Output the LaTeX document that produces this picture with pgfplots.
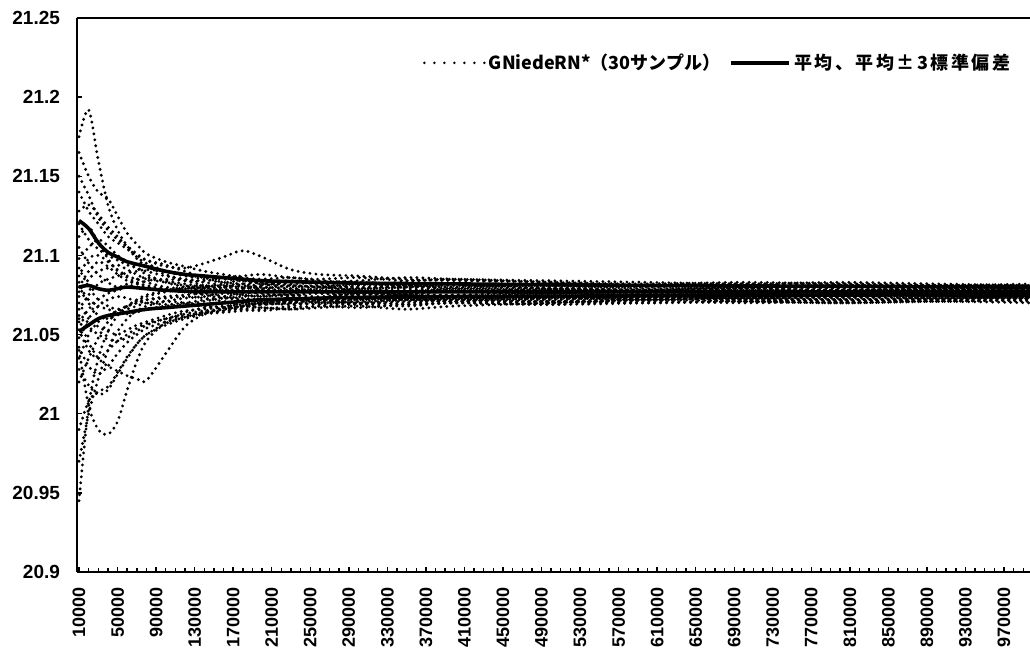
\documentclass[border=0pt]{standalone}
\usepackage{fontspec}
\setmainfont{Liberation Sans}
\newfontfamily\jpA{Noto Sans CJK JP}
\newfontfamily\jpB{Noto Sans CJK JP}[LetterSpace=14]
\usepackage{pgfplots}
\pgfplotsset{compat=1.18}
\begin{document}
\begin{tikzpicture}
\begin{axis}[
  scale only axis, width=476.5pt, height=277pt,
  xmin=0.79, xmax=99.7, ymin=20.9, ymax=21.25,
  axis x line*=bottom, axis y line*=left,
  axis line style={line width=1pt},
  clip mode=individual,
  tick align=inside, tick style={black, line width=0.7pt},
  major tick length=2.6pt, minor tick length=2pt,
  xtick={1,5,...,97}, minor xtick={1,...,100},
  xticklabels={10000,50000,90000,130000,170000,210000,250000,290000,330000,370000,410000,450000,490000,530000,570000,610000,650000,690000,730000,770000,810000,850000,890000,930000,970000},
  xticklabel style={rotate=90, anchor=east, xshift=-4pt, font=\bfseries\fontsize{9}{10}\selectfont},
  ytick={20.9,20.95,21,21.05,21.1,21.15,21.2,21.25},
  yticklabels={20.9,20.95,21,21.05,21.1,21.15,21.2,21.25},
  yticklabel style={xshift=-5pt, font=\bfseries\fontsize{9.5}{10}\selectfont},
  samp/.style={black, line width=1.6pt, dash pattern=on 0pt off 3pt, line cap=round, smooth, tension=0.5, forget plot},
  sol/.style={black, line width=1.8pt, smooth, tension=0.5, forget plot},
  legend columns=2,
  legend style={draw=none, fill=none, inner sep=0pt, at={(0.983,0.919)}, anchor=east,
    font=\bfseries\fontsize{9}{10}\selectfont,
    nodes={inner xsep=1.5pt},
    /tikz/every even column/.append style={column sep=3pt}},
]
\addlegendimage{legend image code/.code={\draw[black, line width=1.4pt, dash pattern=on 0pt off 5pt, line cap=round] (0pt,0pt) -- (30pt,0pt);}}
\addlegendentry{\jpA GNiedeRN*（30サンプル）}
\addlegendimage{legend image code/.code={\draw[black, line width=2pt] (0pt,0pt) -- (29pt,0pt);}}
\addlegendentry{\jpB 平均、平均±3標準偏差}

\addplot[samp] coordinates {(1,21.175)(2,21.192)(3,21.160)(4,21.132)(5,21.116)(6,21.106)(7,21.099)(8,21.095)(10,21.090)(12,21.087)(14,21.085)(16,21.083)(18,21.084)(20,21.082)(23,21.080)(26,21.081)(30,21.079)(35,21.080)(40,21.082)(50,21.079)(60,21.078)(70,21.080)(80,21.079)(90,21.078)(100,21.079)};
\addplot[samp] coordinates {(1,21.165)(2,21.150)(3,21.140)(4,21.136)(5,21.125)(6,21.114)(7,21.107)(8,21.101)(10,21.096)(12,21.093)(14,21.090)(16,21.088)(18,21.086)(20,21.085)(23,21.086)(26,21.084)(30,21.083)(35,21.082)(40,21.080)(50,21.081)(60,21.079)(70,21.080)(80,21.081)(90,21.080)(100,21.079)};
\addplot[samp] coordinates {(1,21.150)(2,21.138)(3,21.124)(4,21.116)(5,21.110)(6,21.106)(7,21.101)(8,21.097)(10,21.093)(12,21.092)(14,21.095)(16,21.099)(18,21.103)(20,21.099)(23,21.091)(26,21.088)(30,21.087)(35,21.085)(40,21.084)(50,21.083)(60,21.081)(70,21.082)(80,21.080)(90,21.081)(100,21.080)};
\addplot[samp] coordinates {(1,21.140)(2,21.128)(3,21.120)(4,21.112)(5,21.108)(6,21.104)(7,21.100)(8,21.097)(10,21.094)(12,21.090)(14,21.086)(16,21.083)(18,21.082)(20,21.080)(23,21.079)(26,21.080)(30,21.078)(35,21.079)(40,21.077)(50,21.078)(60,21.076)(70,21.077)(80,21.078)(90,21.077)(100,21.076)};
\addplot[samp] coordinates {(1,21.128)(2,21.132)(3,21.126)(4,21.118)(5,21.112)(6,21.105)(7,21.098)(8,21.093)(10,21.088)(12,21.084)(14,21.081)(16,21.079)(18,21.077)(20,21.076)(23,21.075)(26,21.076)(30,21.074)(35,21.075)(40,21.073)(50,21.074)(60,21.075)(70,21.074)(80,21.073)(90,21.074)(100,21.075)};
\addplot[samp] coordinates {(1,21.120)(2,21.110)(3,21.104)(4,21.100)(5,21.097)(6,21.094)(7,21.092)(8,21.090)(10,21.087)(12,21.085)(14,21.084)(16,21.086)(18,21.087)(20,21.088)(23,21.086)(26,21.085)(30,21.086)(35,21.084)(40,21.085)(50,21.083)(60,21.082)(70,21.083)(80,21.082)(90,21.081)(100,21.082)};
\addplot[samp] coordinates {(1,21.112)(2,21.118)(3,21.108)(4,21.098)(5,21.090)(6,21.086)(7,21.083)(8,21.081)(10,21.079)(12,21.077)(14,21.075)(16,21.073)(18,21.072)(20,21.071)(23,21.072)(26,21.070)(30,21.071)(35,21.072)(40,21.073)(50,21.072)(60,21.074)(70,21.073)(80,21.074)(90,21.073)(100,21.074)};
\addplot[samp] coordinates {(1,21.105)(2,21.095)(3,21.088)(4,21.083)(5,21.080)(6,21.082)(7,21.085)(8,21.086)(10,21.084)(12,21.082)(14,21.080)(16,21.078)(18,21.079)(20,21.081)(23,21.083)(26,21.082)(30,21.080)(35,21.081)(40,21.079)(50,21.080)(60,21.078)(70,21.079)(80,21.080)(90,21.079)(100,21.078)};
\addplot[samp] coordinates {(1,21.098)(2,21.105)(3,21.110)(4,21.106)(5,21.100)(6,21.096)(7,21.092)(8,21.088)(10,21.083)(12,21.080)(14,21.078)(16,21.077)(18,21.075)(20,21.074)(23,21.076)(26,21.078)(30,21.077)(35,21.076)(40,21.075)(50,21.077)(60,21.076)(70,21.077)(80,21.076)(90,21.077)(100,21.077)};
\addplot[samp] coordinates {(1,21.092)(2,21.080)(3,21.072)(4,21.068)(5,21.066)(6,21.068)(7,21.070)(8,21.072)(10,21.074)(12,21.075)(14,21.076)(16,21.074)(18,21.073)(20,21.072)(23,21.071)(26,21.072)(30,21.070)(35,21.071)(40,21.072)(50,21.071)(60,21.073)(70,21.072)(80,21.071)(90,21.072)(100,21.073)};
\addplot[samp] coordinates {(1,21.087)(2,21.098)(3,21.100)(4,21.096)(5,21.091)(6,21.087)(7,21.085)(8,21.083)(10,21.080)(12,21.079)(14,21.080)(16,21.082)(18,21.081)(20,21.079)(23,21.078)(26,21.079)(30,21.081)(35,21.083)(40,21.082)(50,21.081)(60,21.080)(70,21.081)(80,21.082)(90,21.081)(100,21.080)};
\addplot[samp] coordinates {(1,21.083)(2,21.070)(3,21.062)(4,21.060)(5,21.063)(6,21.066)(7,21.068)(8,21.070)(10,21.071)(12,21.070)(14,21.068)(16,21.067)(18,21.068)(20,21.070)(23,21.072)(26,21.071)(30,21.072)(35,21.073)(40,21.072)(50,21.074)(60,21.073)(70,21.074)(80,21.075)(90,21.074)(100,21.075)};
\addplot[samp] coordinates {(1,21.080)(2,21.090)(3,21.096)(4,21.093)(5,21.088)(6,21.084)(7,21.082)(8,21.080)(10,21.078)(12,21.077)(14,21.079)(16,21.080)(18,21.082)(20,21.083)(23,21.084)(26,21.083)(30,21.082)(35,21.080)(40,21.081)(50,21.079)(60,21.078)(70,21.079)(80,21.078)(90,21.079)(100,21.078)};
\addplot[samp] coordinates {(1,21.077)(2,21.072)(3,21.068)(4,21.066)(5,21.064)(6,21.063)(7,21.064)(8,21.066)(10,21.068)(12,21.069)(14,21.071)(16,21.073)(18,21.074)(20,21.075)(23,21.074)(26,21.073)(30,21.074)(35,21.072)(40,21.073)(50,21.074)(60,21.075)(70,21.074)(80,21.075)(90,21.076)(100,21.075)};
\addplot[samp] coordinates {(1,21.074)(2,21.085)(3,21.090)(4,21.092)(5,21.094)(6,21.091)(7,21.088)(8,21.085)(10,21.083)(12,21.081)(14,21.079)(16,21.078)(18,21.077)(20,21.079)(23,21.081)(26,21.080)(30,21.078)(35,21.077)(40,21.079)(50,21.078)(60,21.077)(70,21.078)(80,21.077)(90,21.078)(100,21.077)};
\addplot[samp] coordinates {(1,21.070)(2,21.060)(3,21.055)(4,21.052)(5,21.050)(6,21.053)(7,21.056)(8,21.058)(10,21.062)(12,21.065)(14,21.066)(16,21.067)(18,21.066)(20,21.065)(23,21.067)(26,21.068)(30,21.067)(35,21.069)(40,21.070)(50,21.071)(60,21.070)(70,21.071)(80,21.072)(90,21.071)(100,21.072)};
\addplot[samp] coordinates {(1,21.066)(2,21.075)(3,21.082)(4,21.085)(5,21.087)(6,21.089)(7,21.090)(8,21.091)(10,21.090)(12,21.088)(14,21.086)(16,21.085)(18,21.084)(20,21.083)(23,21.082)(26,21.083)(30,21.084)(35,21.086)(40,21.085)(50,21.084)(60,21.083)(70,21.082)(80,21.083)(90,21.082)(100,21.081)};
\addplot[samp] coordinates {(1,21.062)(2,21.055)(3,21.050)(4,21.047)(5,21.046)(6,21.048)(7,21.052)(8,21.056)(10,21.060)(12,21.063)(14,21.065)(16,21.066)(18,21.068)(20,21.067)(23,21.066)(26,21.067)(30,21.068)(35,21.066)(40,21.068)(50,21.070)(60,21.072)(70,21.071)(80,21.070)(90,21.071)(100,21.070)};
\addplot[samp] coordinates {(1,21.058)(2,21.066)(3,21.072)(4,21.076)(5,21.078)(6,21.080)(7,21.082)(8,21.084)(10,21.085)(12,21.084)(14,21.083)(16,21.081)(18,21.080)(20,21.078)(23,21.077)(26,21.076)(30,21.075)(35,21.076)(40,21.077)(50,21.076)(60,21.077)(70,21.076)(80,21.077)(90,21.076)(100,21.077)};
\addplot[samp] coordinates {(1,21.053)(2,21.040)(3,21.035)(4,21.040)(5,21.046)(6,21.050)(7,21.054)(8,21.057)(10,21.060)(12,21.062)(14,21.064)(16,21.065)(18,21.067)(20,21.069)(23,21.070)(26,21.069)(30,21.070)(35,21.069)(40,21.070)(50,21.069)(60,21.071)(70,21.070)(80,21.071)(90,21.072)(100,21.071)};
\addplot[samp] coordinates {(1,21.048)(2,21.060)(3,21.068)(4,21.072)(5,21.074)(6,21.073)(7,21.071)(8,21.070)(10,21.069)(12,21.070)(14,21.072)(16,21.074)(18,21.076)(20,21.077)(23,21.078)(26,21.077)(30,21.076)(35,21.078)(40,21.077)(50,21.076)(60,21.078)(70,21.077)(80,21.076)(90,21.077)(100,21.076)};
\addplot[samp] coordinates {(1,21.042)(2,21.030)(3,21.025)(4,21.030)(5,21.038)(6,21.045)(7,21.050)(8,21.054)(10,21.058)(12,21.061)(14,21.063)(16,21.064)(18,21.065)(20,21.066)(23,21.068)(26,21.070)(30,21.069)(35,21.070)(40,21.071)(50,21.070)(60,21.072)(70,21.073)(80,21.072)(90,21.073)(100,21.074)};
\addplot[samp] coordinates {(1,21.035)(2,21.050)(3,21.058)(4,21.062)(5,21.065)(6,21.068)(7,21.070)(8,21.072)(10,21.073)(12,21.074)(14,21.073)(16,21.071)(18,21.070)(20,21.069)(23,21.070)(26,21.072)(30,21.073)(35,21.074)(40,21.075)(50,21.074)(60,21.075)(70,21.076)(80,21.075)(90,21.076)(100,21.075)};
\addplot[samp] coordinates {(1,21.028)(2,21.018)(3,21.012)(4,21.015)(5,21.025)(6,21.035)(7,21.044)(8,21.050)(10,21.056)(12,21.060)(14,21.063)(16,21.065)(18,21.066)(20,21.067)(23,21.066)(26,21.068)(30,21.069)(35,21.068)(40,21.070)(50,21.069)(60,21.070)(70,21.071)(80,21.070)(90,21.071)(100,21.072)};
\addplot[samp] coordinates {(1,21.020)(2,21.035)(3,21.048)(4,21.058)(5,21.064)(6,21.068)(7,21.071)(8,21.074)(10,21.077)(12,21.079)(14,21.080)(16,21.081)(18,21.080)(20,21.082)(23,21.081)(26,21.080)(30,21.082)(35,21.081)(40,21.080)(50,21.082)(60,21.081)(70,21.080)(80,21.081)(90,21.080)(100,21.081)};
\addplot[samp] coordinates {(1,21.060)(2,21.045)(3,21.035)(4,21.030)(5,21.027)(6,21.024)(7,21.022)(8,21.021)(10,21.038)(12,21.055)(14,21.063)(16,21.067)(18,21.070)(20,21.071)(23,21.073)(26,21.072)(30,21.073)(35,21.075)(40,21.074)(50,21.075)(60,21.074)(70,21.075)(80,21.074)(90,21.075)(100,21.074)};
\addplot[samp] coordinates {(1,21.040)(2,21.005)(3,20.990)(4,20.987)(5,20.995)(6,21.015)(7,21.033)(8,21.046)(10,21.058)(12,21.064)(14,21.067)(16,21.068)(18,21.069)(20,21.070)(23,21.069)(26,21.071)(30,21.070)(35,21.072)(40,21.071)(50,21.073)(60,21.072)(70,21.073)(80,21.072)(90,21.073)(100,21.073)};
\addplot[samp] coordinates {(1,20.990)(2,21.008)(3,21.014)(4,21.017)(5,21.026)(6,21.036)(7,21.044)(8,21.050)(10,21.057)(12,21.061)(14,21.064)(16,21.066)(18,21.068)(20,21.070)(23,21.071)(26,21.073)(30,21.072)(35,21.073)(40,21.074)(50,21.073)(60,21.074)(70,21.073)(80,21.074)(90,21.075)(100,21.074)};
\addplot[samp] coordinates {(1,20.970)(2,21.000)(3,21.022)(4,21.040)(5,21.052)(6,21.060)(7,21.065)(8,21.068)(10,21.071)(12,21.073)(14,21.074)(16,21.076)(18,21.075)(20,21.074)(23,21.075)(26,21.074)(30,21.076)(35,21.075)(40,21.074)(50,21.076)(60,21.075)(70,21.076)(80,21.075)(90,21.076)(100,21.075)};
\addplot[samp] coordinates {(1,20.945)(2,21.005)(3,21.035)(4,21.052)(5,21.062)(6,21.068)(7,21.072)(8,21.075)(10,21.078)(12,21.080)(14,21.081)(16,21.080)(18,21.079)(20,21.080)(23,21.079)(26,21.078)(30,21.079)(35,21.080)(40,21.078)(50,21.079)(60,21.078)(70,21.079)(80,21.078)(90,21.079)(100,21.078)};

\addplot[sol] coordinates {(1,21.080)(2,21.081)(3,21.079)(4,21.078)(5,21.079)(6,21.080)(8,21.079)(10,21.078)(14,21.077)(20,21.077)(30,21.077)(50,21.077)(70,21.077)(100,21.077)};
\addplot[sol] coordinates {(1,21.122)(2,21.117)(3,21.108)(4,21.102)(5,21.099)(6,21.096)(8,21.093)(10,21.090)(12,21.088)(14,21.087)(16,21.086)(18,21.085)(20,21.084)(26,21.083)(30,21.0825)(40,21.082)(60,21.081)(80,21.0805)(100,21.080)};
\addplot[sol] coordinates {(1,21.052)(2,21.056)(3,21.060)(4,21.062)(5,21.063)(6,21.064)(8,21.066)(10,21.067)(12,21.068)(14,21.069)(16,21.070)(18,21.071)(20,21.072)(26,21.073)(30,21.0735)(40,21.074)(60,21.0745)(80,21.075)(100,21.075)};

\draw[black, line width=1pt] (rel axis cs:0,1) -- (rel axis cs:1,1);
\coordinate (ll) at (rel axis cs:0,0);
\end{axis}
\pgfresetboundingbox
\path (ll) ++(-38.5pt,-38pt) rectangle ++(515pt,324pt);
\end{tikzpicture}
\end{document}
